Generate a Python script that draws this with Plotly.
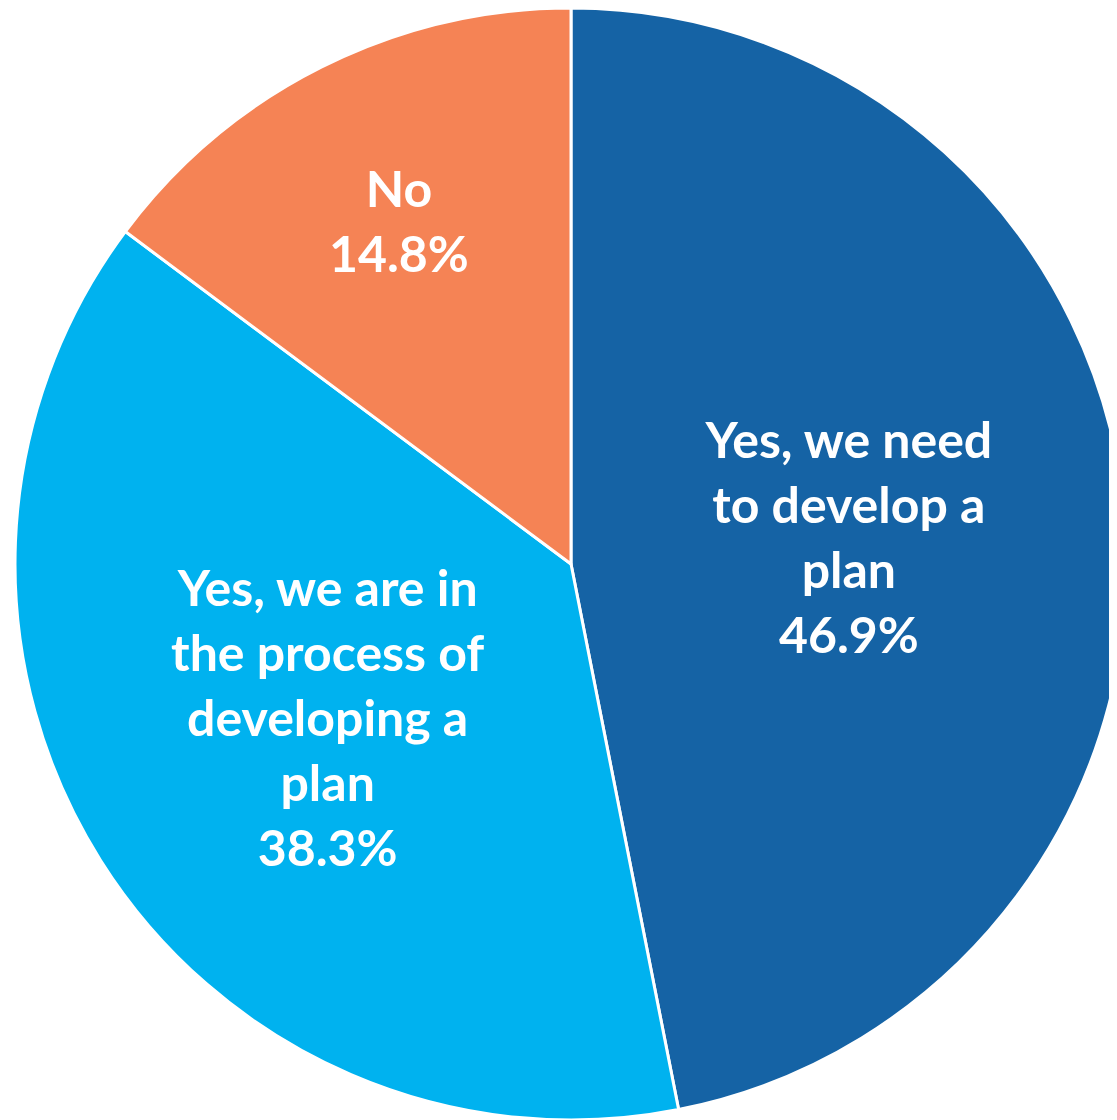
import plotly.graph_objects as go

labels = ["Yes, we need<br>to develop a<br>plan",
          "Yes, we are in<br>the process of<br>developing a<br>plan",
          "No"]
values = [46.9, 38.3, 14.8]
colors = ["#1563A5", "#00B2EF", "#F58355"]

fig = go.Figure(go.Pie(
    labels=labels,
    values=values,
    sort=False,
    direction="clockwise",
    rotation=0,
    marker=dict(colors=colors, line=dict(color="white", width=3)),
    texttemplate="%{label}<br>%{percent:.1%}",
    textposition="inside",
    insidetextorientation="horizontal",
    textfont=dict(family="Lato", size=50, color="white", weight="bold"),
    showlegend=False,
    hoverinfo="label+percent",
    domain=dict(x=[6 / 1120, 1.0], y=[0.0, 1.0]),
))

fig.update_layout(
    width=1120, height=1112,
    margin=dict(l=0, r=0, t=0, b=0),
    paper_bgcolor="white",
    uniformtext=dict(minsize=50, mode="show"),
)

fig.write_html("out.html")
